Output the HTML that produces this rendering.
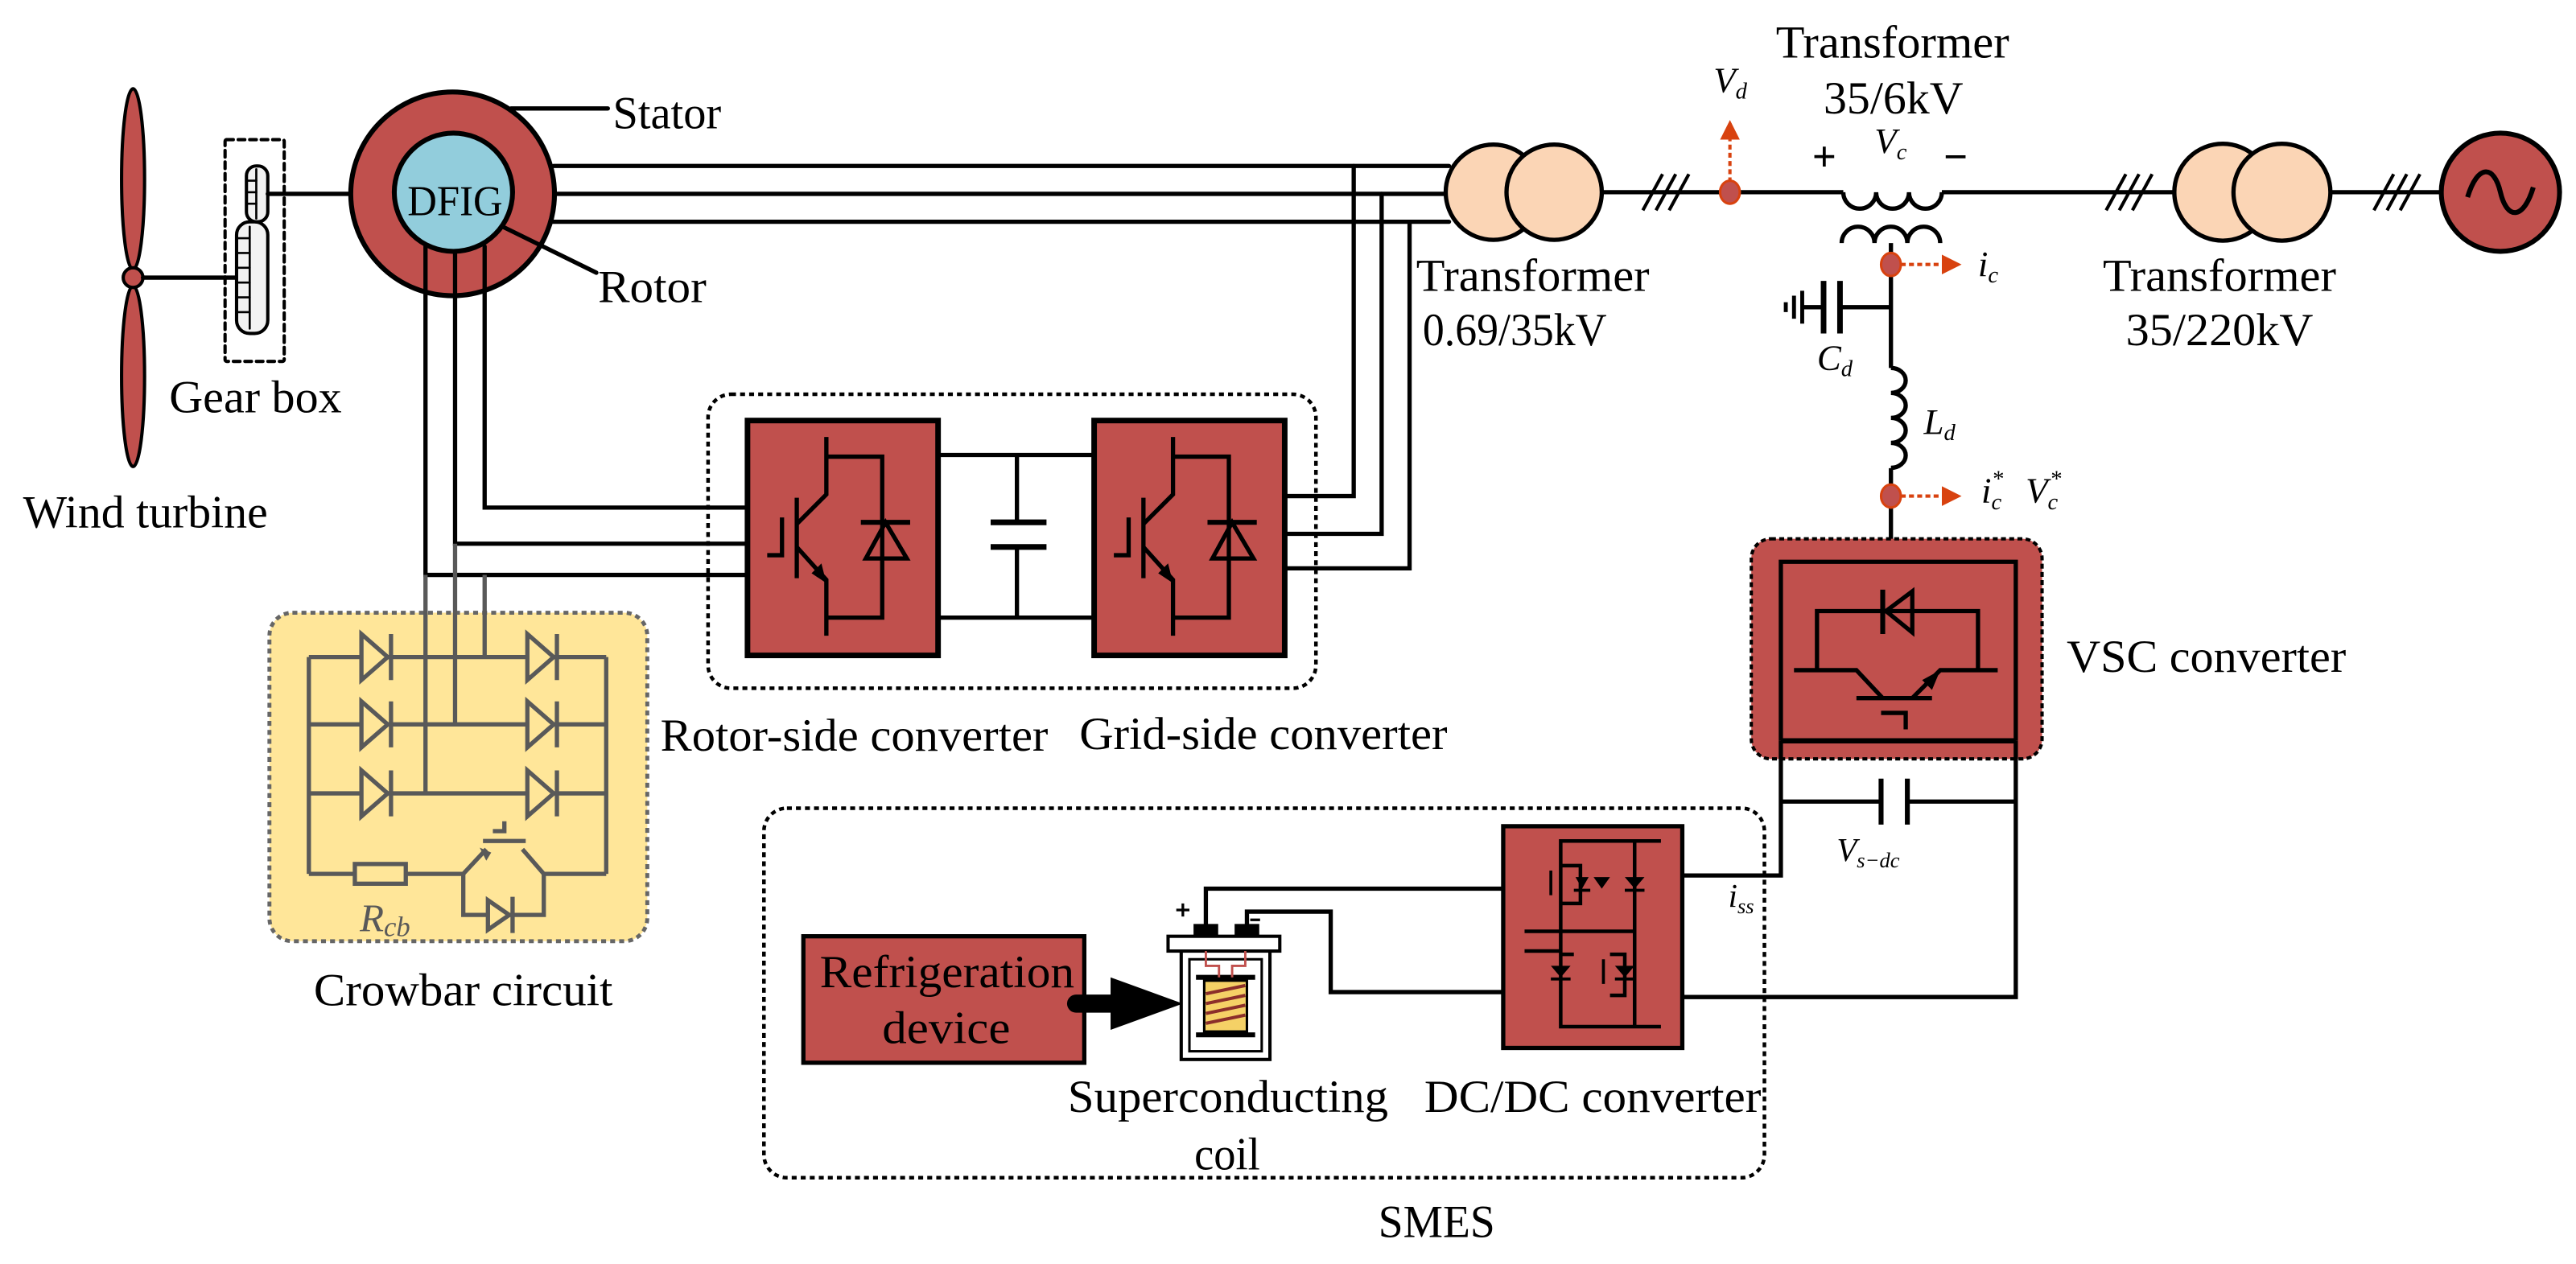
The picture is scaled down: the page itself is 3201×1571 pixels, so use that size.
<!DOCTYPE html>
<html><head><meta charset="utf-8"><style>
html,body{margin:0;padding:0;background:#fff;}
svg{display:block;font-family:"Liberation Serif","Times New Roman",serif;}
svg text{font-family:"Liberation Serif","Times New Roman",serif;fill:#000;}
.it{font-style:italic;}
</style></head><body>
<svg width="3201" height="1571" viewBox="0 0 1568 769.5" xmlns="http://www.w3.org/2000/svg" font-family="Liberation Serif, serif">
<defs>
<marker id="ar" markerWidth="6" markerHeight="6" refX="5" refY="3" orient="auto" markerUnits="strokeWidth"><path d="M0,0 L6,3 L0,6 z" fill="#D8420F"/></marker>
<marker id="ab" markerWidth="5" markerHeight="5" refX="4" refY="2.5" orient="auto" markerUnits="strokeWidth"><path d="M0,0 L5,2.5 L0,5 z" fill="#000"/></marker>
</defs>
<rect width="1568" height="769.5" fill="#fff"/>
<g stroke="#000" stroke-width="2.6" fill="none" stroke-linecap="round">
<ellipse cx="81" cy="109" rx="7" ry="55" fill="#C0504D" stroke-width="2"/>
<ellipse cx="81" cy="229" rx="7" ry="55" fill="#C0504D" stroke-width="2"/>
<circle cx="81" cy="169" r="6" fill="#C0504D" stroke-width="2"/>
<line x1="87" y1="169" x2="145" y2="169"/>
<rect x="137" y="85" width="36" height="135" stroke-width="2" stroke-dasharray="4,3" rx="1"/>
<rect x="144" y="135" width="19" height="68" rx="8" fill="#f2f2f2" stroke-width="2"/>
<g stroke-width="1.3"><line x1="144" y1="145" x2="152" y2="145"/><line x1="144" y1="154" x2="152" y2="154"/><line x1="144" y1="163" x2="152" y2="163"/><line x1="144" y1="172" x2="152" y2="172"/><line x1="144" y1="181" x2="152" y2="181"/><line x1="144" y1="190" x2="152" y2="190"/><line x1="152" y1="138" x2="152" y2="200"/></g>
<rect x="150" y="101" width="13" height="34" rx="6" fill="#f2f2f2" stroke-width="2"/>
<g stroke-width="1.3"><line x1="150" y1="110" x2="156" y2="110"/><line x1="150" y1="117" x2="156" y2="117"/><line x1="150" y1="124" x2="156" y2="124"/><line x1="156" y1="103" x2="156" y2="133"/></g>
<line x1="163" y1="118" x2="240" y2="118"/>
<circle cx="275.5" cy="118" r="62" fill="#C0504D" stroke-width="3"/>
<circle cx="276" cy="117" r="36" fill="#92CDDC" stroke-width="3"/>
<line x1="311" y1="66" x2="370" y2="66"/>
<line x1="306" y1="138" x2="363" y2="166"/>
<line x1="337" y1="101" x2="882" y2="101"/>
<line x1="338" y1="118" x2="882" y2="118"/>
<line x1="336" y1="135" x2="882" y2="135"/>
<path d="M295 150 V309 H455"/>
<path d="M277 153 V331 H455"/>
<path d="M259 150 V350 H455"/>
<path d="M779 302 H824 V101"/>
<path d="M779 325 H841 V118"/>
<path d="M779 346 H858 V135"/>
</g>
<text x="373" y="78" font-size="28" textLength="66" lengthAdjust="spacingAndGlyphs">Stator</text>
<text x="364" y="184" font-size="28" textLength="66" lengthAdjust="spacingAndGlyphs">Rotor</text>
<text x="248" y="131" font-size="26" textLength="58" lengthAdjust="spacingAndGlyphs">DFIG</text>
<text x="103" y="251" font-size="28" textLength="105" lengthAdjust="spacingAndGlyphs">Gear box</text>
<text x="14" y="321" font-size="28" textLength="149" lengthAdjust="spacingAndGlyphs">Wind turbine</text>

<rect x="164" y="373" width="230" height="200" rx="14" fill="#FFE699" stroke="#666" stroke-width="2.4" stroke-dasharray="3,2.5"/>
<g stroke="#595959" stroke-width="2.6" fill="none">
<path d="M295 350 V400"/><path d="M277 331 V441"/><path d="M259 350 V483"/>
<path d="M188 400 H369 M188 441 H369 M188 483 H369 M188 400 V532 M369 400 V532"/>
<path d="M188 532 H216 M247 532 H282 M331 532 H369"/>
<rect x="216" y="526" width="31" height="12" fill="#FFE699"/>
<path d="M282 532 V557 H331 V532"/>
<path d="M282 532 L296 517 M331 532 L318 517 M294 512 H320 M300 506 H307 V500"/>
</g>
<g fill="#FFE699" stroke="#595959" stroke-width="2.6">
<path d="M220 386 L236 400 L220 414 Z"/><line x1="238" y1="386" x2="238" y2="414"/>
<path d="M220 427 L236 441 L220 455 Z"/><line x1="238" y1="427" x2="238" y2="455"/>
<path d="M220 469 L236 483 L220 497 Z"/><line x1="238" y1="469" x2="238" y2="497"/>
<path d="M321 386 L337 400 L321 414 Z"/><line x1="339" y1="386" x2="339" y2="414"/>
<path d="M321 427 L337 441 L321 455 Z"/><line x1="339" y1="427" x2="339" y2="455"/>
<path d="M321 469 L337 483 L321 497 Z"/><line x1="339" y1="469" x2="339" y2="497"/>
<path d="M297 548 L310 557 L297 566 Z"/><line x1="312" y1="546" x2="312" y2="568"/>
</g>
<path d="M296 524 L292 516 L299 519 Z" fill="#595959"/>
<text x="219" y="567" font-size="24" class="it" style="fill:#595959">R<tspan font-size="17" dy="3">cb</tspan></text>
<text x="191" y="612" font-size="28" textLength="182" lengthAdjust="spacingAndGlyphs">Crowbar circuit</text>

<rect x="431" y="240" width="370" height="179" rx="14" fill="none" stroke="#000" stroke-width="2.2" stroke-dasharray="3,2.5"/>
<g stroke="#000" stroke-width="2.6" fill="none">
<path d="M571 277 H666 M571 376 H666 M619 277 V318 M619 333 V376"/>
<path d="M603 318 H637 M603 333 H637" stroke-width="3.5"/>
</g>
<g id="conv">
<rect x="455" y="256" width="116" height="143" fill="#C0504D" stroke="#000" stroke-width="3.4"/>
<g stroke="#000" stroke-width="2.6" fill="none">
<path d="M503 266 V301 L485 319"/>
<path d="M485 303 V352"/>
<path d="M476 315 V338 H467"/>
<path d="M485 333 L503 353 V387"/>
<path d="M503 278 H537 V376 H503"/>
<path d="M524 318 H554" stroke-width="3"/>
<path d="M527 340 L539 318 L552 340 Z"/>
</g>
<path d="M503 355 L494 349 L500 343 Z" fill="#000"/>
</g>
<use href="#conv" transform="translate(211,0)"/>
<text x="402" y="457" font-size="28" textLength="236" lengthAdjust="spacingAndGlyphs">Rotor-side converter</text>
<text x="657" y="456" font-size="28" textLength="224" lengthAdjust="spacingAndGlyphs">Grid-side converter</text>

<g stroke="#000" stroke-width="2.6" fill="#FBD5B5">
<circle cx="909" cy="117" r="29"/>
<circle cx="946" cy="117" r="29"/>
<circle cx="1353" cy="117" r="29.5"/>
<circle cx="1389" cy="117" r="29.5"/>
<circle cx="1522" cy="117" r="36" fill="#C0504D" stroke-width="3"/>
</g>
<g stroke="#000" stroke-width="2.6" fill="none">
<path d="M975 117 H1122"/>
<path d="M1122 117 a10 10 0 0 0 20 0 a10 10 0 0 0 20 0 a10 10 0 0 0 20 0"/>
<path d="M1182 117 H1324"/>
<path d="M1418 117 H1486"/>
<path d="M1121 148 a10 10 0 0 1 20 0 a10 10 0 0 1 20 0 a10 10 0 0 1 20 0"/>
<path d="M1151 148 V224"/>
<path d="M1151 224 a9 7.6 0 0 1 0 15.2 a9 7.6 0 0 1 0 15.2 a9 7.6 0 0 1 0 15.2 a9 7.6 0 0 1 0 15.2"/>
<path d="M1151 285 V342"/>
<path d="M1151 187 H1120 M1110 187 H1097"/>
<path d="M1120 171 V203 M1110 171 V203" stroke-width="3.4"/>
<path d="M1097 177 V197 M1092 180 V194 M1087 184 V190" stroke-width="2.4"/>
<path d="M1000 128 L1012 106 M1008 128 L1020 106 M1016 128 L1028 106" stroke-width="2"/>
<path d="M1282 128 L1294 106 M1290 128 L1302 106 M1298 128 L1310 106" stroke-width="2"/>
<path d="M1445 128 L1457 106 M1453 128 L1465 106 M1461 128 L1473 106" stroke-width="2"/>
<path d="M1502 120 C1508 100 1518 100 1522 117 C1526 134 1536 134 1542 114" stroke-width="3"/>
</g>
<g stroke="#D8420F" stroke-width="2" stroke-dasharray="3,2" fill="none">
<line x1="1053" y1="111" x2="1053" y2="75" marker-end="url(#ar)"/>
<line x1="1157" y1="161" x2="1192" y2="161" marker-end="url(#ar)"/>
<line x1="1157" y1="302" x2="1192" y2="302" marker-end="url(#ar)"/>
</g>
<g fill="#C0504D" stroke="#D8420F" stroke-width="1.5">
<ellipse cx="1053" cy="117" rx="6" ry="7"/>
<ellipse cx="1151" cy="161" rx="6" ry="7"/>
<ellipse cx="1151" cy="302" rx="6" ry="7"/>
</g>
<text x="1081" y="35" font-size="28" textLength="142" lengthAdjust="spacingAndGlyphs">Transformer</text>
<text x="1110" y="69" font-size="28" textLength="85" lengthAdjust="spacingAndGlyphs">35/6kV</text>
<text x="862" y="177" font-size="28" textLength="142" lengthAdjust="spacingAndGlyphs">Transformer</text>
<text x="866" y="210" font-size="28" textLength="112" lengthAdjust="spacingAndGlyphs">0.69/35kV</text>
<text x="1280" y="177" font-size="28" textLength="142" lengthAdjust="spacingAndGlyphs">Transformer</text>
<text x="1294" y="210" font-size="28" textLength="114" lengthAdjust="spacingAndGlyphs">35/220kV</text>
<text x="1043" y="56" font-size="22" class="it">V<tspan font-size="14" dy="4">d</tspan></text>
<text x="1103" y="104" font-size="26" font-weight="bold">+</text>
<text x="1141" y="93" font-size="22" class="it">V<tspan font-size="14" dy="4">c</tspan></text>
<text x="1183" y="104" font-size="26" font-weight="bold">−</text>
<text x="1204" y="168" font-size="22" class="it">i<tspan font-size="14" dy="4">c</tspan></text>
<text x="1106" y="225" font-size="22" class="it">C<tspan font-size="14" dy="4">d</tspan></text>
<text x="1171" y="264" font-size="22" class="it">L<tspan font-size="14" dy="4">d</tspan></text>
<text x="1206" y="306" font-size="22" class="it">i<tspan font-size="14" dy="4">c</tspan><tspan font-size="14" dx="-6" dy="-14">*</tspan></text>
<text x="1233" y="306" font-size="22" class="it">V<tspan font-size="14" dy="4">c</tspan><tspan font-size="14" dx="-5" dy="-14">*</tspan></text>

<rect x="1066" y="328" width="177" height="134" rx="12" fill="#C0504D" stroke="#000" stroke-width="2" stroke-dasharray="3,2"/>
<g stroke="#000" stroke-width="2.6" fill="none">
<path d="M1084 451 V342 H1227 V451"/>
<path d="M1084 451 H1227" stroke-width="3.2"/>
<path d="M1084 451 V533 H1004" marker-end="url(#ab)"/>
<path d="M1227 451 V607 H1024"/>
<path d="M1084 488 H1145 M1161 488 H1227"/>
<path d="M1145 474 V502 M1161 474 V502" stroke-width="3"/>
<path d="M1106 408 V372 H1204 V408"/>
<path d="M1146 359 V386" stroke-width="3"/>
<path d="M1164 360 L1148 372 L1164 385 Z"/>
<path d="M1092 408 H1130 L1146 425 M1216 408 H1181 L1164 425"/>
<path d="M1130 425 H1176 M1145 434 H1160 V444"/>
</g>
<path d="M1181 408 L1170 414 L1176 420 Z" fill="#000"/>
<text x="1258" y="409" font-size="28" textLength="170" lengthAdjust="spacingAndGlyphs">VSC converter</text>
<text x="1118" y="524" font-size="20" class="it">V<tspan font-size="13" dy="4">s−dc</tspan></text>
<text x="1052" y="552" font-size="20" class="it">i<tspan font-size="13" dy="4">ss</tspan></text>

<rect x="465" y="492" width="609" height="225" rx="14" fill="none" stroke="#000" stroke-width="2.2" stroke-dasharray="3,2.5"/>
<rect x="489" y="570" width="171" height="77" fill="#C0504D" stroke="#000" stroke-width="2.6"/>
<text x="499" y="601" font-size="28" textLength="155" lengthAdjust="spacingAndGlyphs">Refrigeration</text>
<text x="537" y="635" font-size="28" textLength="78" lengthAdjust="spacingAndGlyphs">device</text>
<line x1="655" y1="611" x2="678" y2="611" stroke="#000" stroke-width="11" stroke-linecap="round"/>
<path d="M676 595 L720 611 L676 627 Z" fill="#000"/>
<g stroke="#000" fill="none">
<rect x="719" y="578" width="54" height="67" fill="#fff" stroke-width="2"/>
<rect x="724" y="584" width="44" height="56" fill="#fff" stroke-width="1.5"/>
<rect x="711" y="570" width="68" height="9" fill="#fff" stroke-width="2"/>
<rect x="727" y="563" width="14" height="7" fill="#000" stroke-width="1"/>
<rect x="752" y="563" width="14" height="7" fill="#000" stroke-width="1"/>
<rect x="733" y="597" width="26" height="31" fill="#F5D166" stroke-width="1.5"/>
<path d="M728 595 H764 M728 630 H764" stroke-width="3"/>
<path d="M734 579 V588 H742 V595 M758 579 V588 H750 V595" stroke="#C0504D" stroke-width="1.4"/>
<path d="M734 605 L758 600 M734 611 L758 606 M734 617 L758 612 M734 623 L758 618" stroke="#8B2E2A" stroke-width="2"/>
<path d="M734 563 V541 H915 M759 563 V555 H810 V604 H915" stroke-width="2.6"/>
<path d="M720 558 V550 M716 554 H724 M761 560 H767" stroke-width="1.6"/>
</g>
<rect x="915" y="503" width="109" height="135" fill="#C0504D" stroke="#000" stroke-width="2.6"/>
<g stroke="#000" stroke-width="2.2" fill="none">
<path d="M1011 512 H950 V625 H1011 M995 512 V625 M928 567 H995 M928 579 H950"/>
<path d="M950 527 H962 V550 H950 M950 581 H958 M980 581 H989 V606 H980"/>
</g>
<g fill="#000">
<path d="M959 534 L967 534 L963 541 Z"/><path d="M989 534 L1001 534 L995 541 Z"/>
<path d="M944 588 L956 588 L950 595 Z"/><path d="M983 588 L995 588 L989 595 Z"/>
<path d="M970 534 L980 534 L975 541 Z"/>
</g>
<g stroke="#000" stroke-width="1.8"><line x1="958" y1="542" x2="968" y2="542"/><line x1="989" y1="542" x2="1001" y2="542"/><line x1="944" y1="596" x2="956" y2="596"/><line x1="983" y1="596" x2="995" y2="596"/><line x1="944" y1="530" x2="944" y2="545"/><line x1="976" y1="584" x2="976" y2="599"/></g>
<text x="650" y="677" font-size="28" textLength="195" lengthAdjust="spacingAndGlyphs">Superconducting</text>
<text x="727" y="712" font-size="28" textLength="40" lengthAdjust="spacingAndGlyphs">coil</text>
<text x="867" y="677" font-size="28" textLength="205" lengthAdjust="spacingAndGlyphs">DC/DC converter</text>
<text x="839" y="753" font-size="28" textLength="71" lengthAdjust="spacingAndGlyphs">SMES</text>
</svg>
</body></html>
